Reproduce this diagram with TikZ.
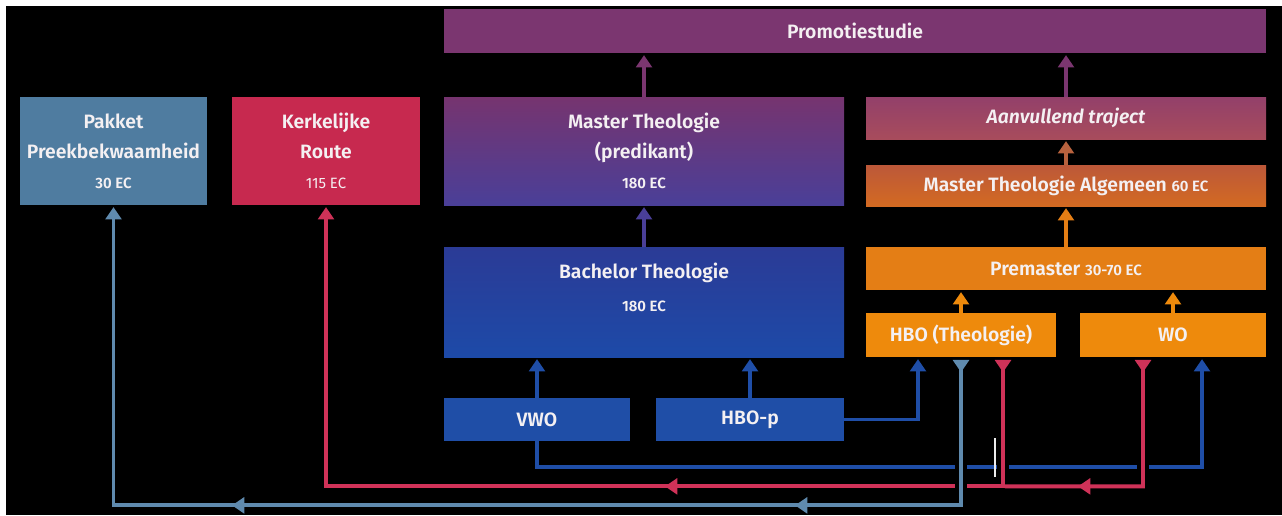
\documentclass[tikz,border=0pt]{standalone}
\usepackage{fontspec}
\setmainfont{Fira Sans}[BoldFont={Fira Sans SemiBold}, BoldItalicFont={Fira Sans SemiBold Italic}]
\usetikzlibrary{arrows.meta,decorations.markings}

\definecolor{steel}{HTML}{5F8AAE}
\definecolor{steelbox}{HTML}{4F7CA0}
\definecolor{crimson}{HTML}{CF3258}
\definecolor{crimsonbox}{HTML}{C7294F}
\definecolor{royal}{HTML}{1F4EA7}
\definecolor{promo}{HTML}{7B3670}
\definecolor{mastertop}{HTML}{76346F}
\definecolor{masterbot}{HTML}{4A3F98}
\definecolor{bachtop}{HTML}{2B3B96}
\definecolor{bachbot}{HTML}{1D4AA8}
\definecolor{aanvtop}{HTML}{93406A}
\definecolor{aanvbot}{HTML}{A84C5C}
\definecolor{mtatop}{HTML}{BC5839}
\definecolor{mtabot}{HTML}{D36A22}
\definecolor{mtaarrow}{HTML}{B8623E}
\definecolor{premaster}{HTML}{E47E15}
\definecolor{hboorange}{HTML}{EE8A0C}
\definecolor{boxtext}{HTML}{F4F0F2}

\newcommand{\ectext}[1]{{\fontsize{8.5}{10}\selectfont #1}}
\newcommand{\midtip}{\arrow{Triangle[width=9pt,length=7pt]}}

\begin{document}
\begin{tikzpicture}[x=1cm, y=-1cm,
		box/.style={inner sep=0pt, align=center, text=boxtext, font=\bfseries\fontsize{11}{17}\selectfont},
		up/.style={line width=2.2pt, -{Triangle[width=9pt,length=7pt]}, shorten >=1pt},
		route/.style={line width=2.2pt, -{Triangle[width=9pt,length=7pt]}, shorten >=1pt},
		flare/.style={{Triangle[reversed,width=9pt,length=7pt]}-{Triangle[width=9pt,length=7pt]}, shorten <=1.5pt}]
			\useasboundingbox (0,0) rectangle (25.64,10.30);
			\fill[white] (0,0) rectangle (25.64,10.30);
			\fill[black] (0.12,0.12) rectangle (25.64,10.30);
			
			\node[box, fill=promo, minimum width=16.44cm, minimum height=0.88cm] (promo) at (17.10,0.62) {Promotiestudie};
			\node[box, fill=steelbox, minimum width=3.74cm, minimum height=2.16cm] (pakket) at (2.27,3.02) {Pakket\\Preekbekwaamheid\\\ectext{30 EC}};
			\node[box, fill=crimsonbox, minimum width=3.76cm, minimum height=2.16cm] (kerk) at (6.52,3.02) {Kerkelijke\\Route\\{\mdseries\ectext{115 EC}}};
			\node[box, top color=mastertop, bottom color=masterbot, minimum width=8cm, minimum height=2.16cm] (master) at (12.88,3.02) {Master Theologie\\(predikant)\\\ectext{180 EC}};
			\node[box, top color=aanvtop, bottom color=aanvbot, minimum width=8cm, minimum height=0.84cm, font=\bfseries\itshape\fontsize{11}{17}\selectfont] (aanv) at (21.32,2.36) {Aanvullend traject};
			\node[box, top color=mtatop, bottom color=mtabot, minimum width=8cm, minimum height=0.82cm] (mta) at (21.32,3.71) {Master Theologie Algemeen\ \ectext{60 EC}};
			\node[box, fill=premaster, minimum width=8cm, minimum height=0.86cm] (prem) at (21.32,5.37) {Premaster\ \ectext{30-70 EC}};
			\node[box, top color=bachtop, bottom color=bachbot, minimum width=8cm, minimum height=2.2cm, text depth=0.6cm] (bach) at (12.88,6.04) {Bachelor Theologie\\[2pt]\ectext{180 EC}};
			\node[box, fill=hboorange, minimum width=3.8cm, minimum height=0.88cm] (hbot) at (19.22,6.70) {HBO (Theologie)};
			\node[box, fill=hboorange, minimum width=3.72cm, minimum height=0.88cm] (wo) at (23.46,6.70) {WO};
			\node[box, fill=royal, minimum width=3.72cm, minimum height=0.86cm] (vwo) at (10.74,8.39) {VWO};
			\node[box, fill=royal, minimum width=3.76cm, minimum height=0.86cm] (hbop) at (15.00,8.39) {HBO-p};
			\coordinate (join) at ([xshift=0.84cm, yshift=-2.58cm]hbot.south);
			
			\path (master.north) edge[up, promo] (promo.south -| master.north);
			\path (aanv.north) edge[up, promo] (promo.south -| aanv.north);
			\path (bach.north) edge[up, masterbot] (master.south);
			\path (mta.north) edge[up, mtaarrow] (aanv.south);
			\path (prem.north) edge[up, premaster] (mta.south);
			\path (hbot.north) edge[up, hboorange] (hbot.north |- prem.south);
			\path (wo.north) edge[up, hboorange] (wo.north |- prem.south);
			\path (vwo.north) edge[up, royal] (vwo.north |- bach.south);
			\path (hbop.north) edge[up, royal] (hbop.north |- bach.south);
			
			% routes along the bottom
			\draw[route, royal] (vwo.south) -- ++(0,0.52) -| ([xshift=0.58cm]wo.south);
			\draw[route, royal] (hbop.east) -| ([xshift=-0.86cm]hbot.south);
			\draw[route, crimson, {Triangle[reversed,width=9pt,length=7pt]}-, shorten <=1.5pt, shorten >=1.1pt,
				postaction={decorate, decoration={markings, mark=at position 3.88cm with {\midtip}}}]
				([xshift=-0.6cm]wo.south) -- ++(0,2.58) -- (join);
			\draw[route, flare, crimson,
				postaction={decorate, decoration={markings, mark=at position 9.34cm with {\midtip}}}]
				([xshift=0.84cm]hbot.south) -- ++(0,2.58) -| (kerk.south);
			\draw[route, flare, steel,
				postaction={decorate, decoration={markings, mark=at position 6.28cm with {\midtip}, mark=at position 17.54cm with {\midtip}}}]
				(hbot.south) -- ++(0,2.96) -| (pakket.south);
			
			% crossings
			\foreach \bx/\by/\bc in {19.22/9.34/steel, 19.22/9.72/steel, 20.06/9.34/crimson, 22.86/9.34/crimson}{
				\draw[black, line width=7pt] (\bx,\by-0.12) -- (\bx,\by+0.12);
				\draw[\bc, line width=2.2pt] (\bx,\by-0.2) -- (\bx,\by+0.2);
			}
			\draw[white!85!gray, line width=0.9pt] (19.90,8.76) -- (19.90,9.54);
			
		\end{tikzpicture}
\end{document}
